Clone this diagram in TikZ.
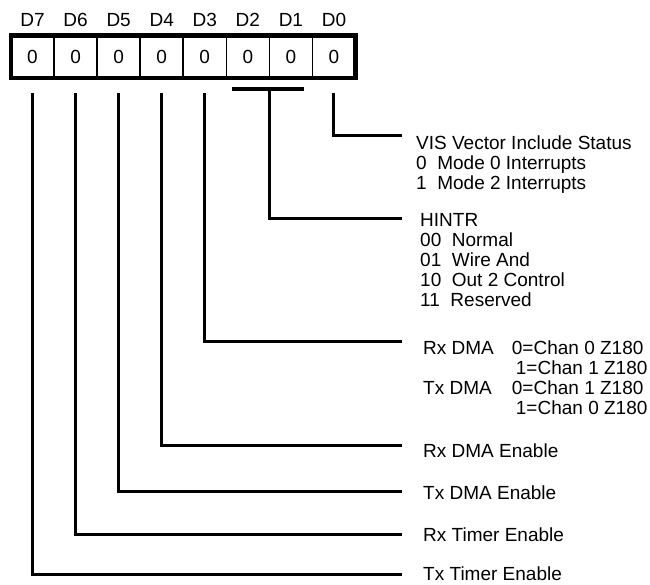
\documentclass[tikz,border=0pt]{standalone}
\usepackage{fontspec}
\setmainfont{Liberation Sans}
\usetikzlibrary{positioning}

\begin{document}
\begin{tikzpicture}[
    x=1pt, y=-1pt,
    node distance=0pt,
    cell/.style={
        rectangle, draw, line width=1.5pt,
        minimum width=43.06pt, minimum height=42.5pt,
        inner sep=0pt, outer sep=0pt,
        font=\fontsize{19}{20}\selectfont
    },
    bitname/.style={inner sep=0pt, font=\fontsize{19}{20}\selectfont},
    note/.style={anchor=base west, inner sep=0pt, font=\fontsize{19}{20}\selectfont},
    wire/.style={line width=3pt},
    frame/.style={line width=4.3pt}
]
\useasboundingbox (0,0) rectangle (650,584);

% Register cells
\node[cell] (d7) at (32.53,56.75) {0};
\node[cell, right=of d7] (d6) {0};
\node[cell, right=of d6] (d5) {0};
\node[cell, right=of d5] (d4) {0};
\node[cell, right=of d4] (d3) {0};
\node[cell, right=of d3] (d2) {0};
\node[cell, right=of d2] (d1) {0};
\node[cell, right=of d1] (d0) {0};
\draw[frame] (d7.north west) rectangle (d0.south east);

% Bit names
\node[bitname, above=8.8pt of d7] (n7) {D7};
\node[bitname, above=8.8pt of d6] (n6) {D6};
\node[bitname, above=8.8pt of d5] (n5) {D5};
\node[bitname, above=8.8pt of d4] (n4) {D4};
\node[bitname, above=8.8pt of d3] (n3) {D3};
\node[bitname, above=8.8pt of d2] (n2) {D2};
\node[bitname, above=8.8pt of d1] (n1) {D1};
\node[bitname, above=8.8pt of d0] (n0) {D0};

% Line ends
\coordinate (e0)  at (402,135);
\coordinate (e21) at (402,218);
\coordinate (e3)  at (402,341);
\coordinate (e4)  at (402,445);
\coordinate (e5)  at (402,491);
\coordinate (e6)  at (402,534);
\coordinate (e7)  at (402,574);

% Descriptions
\node[note] (vis) at (416,149)
    {\begin{tabular}[t]{@{}l@{}}VIS Vector Include Status\\0~~Mode 0 Interrupts\\1~~Mode 2 Interrupts\end{tabular}};
\node[note] (hintr) at (420,226)
    {\begin{tabular}[t]{@{}l@{}}HINTR\\00~~Normal\\01~~Wire And\\10~~Out 2 Control\\11~~Reserved\end{tabular}};
\node[note] (dma) at (423,354)
    {\begin{tabular}[t]{@{}l@{\hspace{18pt}}l@{}}Rx DMA & 0=Chan 0 Z180\\ & \hspace{4pt}1=Chan 1 Z180\\Tx DMA & 0=Chan 1 Z180\\ & \hspace{4pt}1=Chan 0 Z180\end{tabular}};
\node[note] (rxdma) at (423,457) {Rx DMA Enable};
\node[note] (txdma) at (423,499) {Tx DMA Enable};
\node[note] (rxtim) at (423,541) {Rx Timer Enable};
\node[note] (txtim) at (423,580) {Tx Timer Enable};

% D2/D1 bracket
\coordinate (split) at ([yshift=-11pt]d2.south east);
\draw[line width=3.5pt] ([xshift=-37pt]split) -- ([xshift=35pt]split);

% Connectors
\draw[wire] ([yshift=-15pt]d0.south) |- (e0);
\draw[wire] (split) |- (e21);
\draw[wire] ([yshift=-15pt]d3.south) |- (e3);
\draw[wire] ([yshift=-15pt]d4.south) |- (e4);
\draw[wire] ([yshift=-15pt]d5.south) |- (e5);
\draw[wire] ([yshift=-15pt]d6.south) |- (e6);
\draw[wire] ([yshift=-15pt]d7.south) |- (e7);

\end{tikzpicture}
\end{document}
